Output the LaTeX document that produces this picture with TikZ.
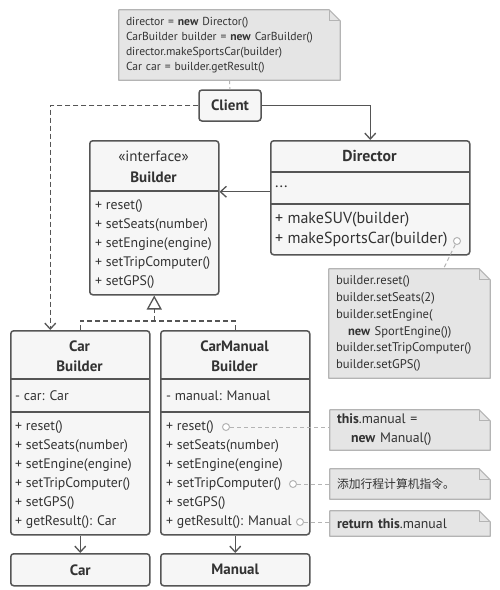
\documentclass[tikz,border=0pt]{standalone}
\usepackage{fontspec}
\setmainfont{PT Sans}
\newfontfamily\cjkfont{Noto Sans CJK SC}
\usetikzlibrary{arrows.meta,positioning,calc}
\definecolor{umlline}{RGB}{85,85,85}
\definecolor{umlfill}{RGB}{246,246,246}
\definecolor{umltext}{RGB}{51,51,51}
\definecolor{notefill}{RGB}{229,229,229}
\definecolor{noteline}{RGB}{180,180,180}

% dog-ear outline for a note node
\newcommand{\notefold}[1]{%
  \fill[white] (#1.north east) -- ([xshift=-11pt]#1.north east) -- ([yshift=-11pt]#1.north east) -- cycle;
  \draw[noteline, line width=1.2pt, line join=round] (#1.south west) -- (#1.north west) -- ([xshift=-11pt]#1.north east) -- ([yshift=-11pt]#1.north east) -- (#1.south east) -- cycle;
  \draw[noteline, line width=1pt] ([xshift=-11pt]#1.north east) |- ([yshift=-11pt]#1.north east);
}

\begin{document}
\begin{tikzpicture}[x=1pt, y=-1pt,
  umlbox/.style={draw=umlline, line width=1.5pt, rounded corners=3pt, fill=umlfill, inner sep=0pt, text=umltext},
  umlsep/.style={draw=umlline, line width=1.5pt},
  hdr/.style={font=\fontsize{15}{20}\selectfont\bfseries, text=umltext, align=center, inner sep=0pt},
  mlist/.style={font=\fontsize{13.8}{19}\selectfont, text=umltext, align=left, inner sep=0pt, anchor=west},
  note/.style={fill=notefill, inner xsep=7pt, inner ysep=0pt, align=left, text=umltext},
  link/.style={draw=umlline, line width=1.3pt},
  arr/.style={-{Straight Barb[length=6pt, width=11pt]}},
  realize/.style={link, dash pattern=on 5pt off 3pt},
  hint/.style={draw=noteline, line width=1pt, dash pattern=on 4pt off 3pt},
  pin/.style={circle, draw=noteline, line width=1pt, fill=white, minimum size=7pt, inner sep=0pt}]

  \path[use as bounding box, fill=white] (0,0) rectangle (500,590);

  % Client and its note
  \node[note, text width=207pt, minimum height=70pt, font=\fontsize{11.6}{15}\selectfont] (n1) at (229.5,45)
    {director = \textbf{new} Director()\\CarBuilder builder = \textbf{new} CarBuilder()\\director.makeSportsCar(builder)\\Car car = builder.getResult()};
  \notefold{n1}
  \node[umlbox, font=\fontsize{15}{20}\selectfont\bfseries, minimum width=62pt, minimum height=31pt] (client) at (230,105.5) {Client};

  % Builder interface
  \node[umlbox, minimum width=129pt, minimum height=154pt, anchor=north west] (bld) at (89,140) {};
  \node[hdr, font=\fontsize{15}{21}\selectfont\bfseries] (bldh) at (153.5,166.5) {\mdseries«interface»\\Builder};
  \draw[umlsep] (89,191) -- (218,191);
  \node[mlist] (bldm) at (95,244) {+ reset()\\+ setSeats(number)\\+ setEngine(engine)\\+ setTripComputer()\\+ setGPS()};

  % Director
  \node[umlbox, minimum width=199pt, minimum height=114pt, anchor=north west] (dir) at (270,140) {};
  \node[hdr, font=\fontsize{15.8}{20}\selectfont\bfseries] (dirh) at (369.5,156) {Director};
  \draw[umlsep] (270,172) -- (469,172);
  \node[mlist, font=\fontsize{16}{19}\selectfont] (dirf) at (275,187) {...};
  \draw[umlsep] (270,204) -- (469,204);
  \node[mlist, font=\fontsize{16}{20}\selectfont] (dirm) at (275,229.5) {+ makeSUV(builder)\\+ makeSportsCar(builder)};
  \node[pin] (dpin) at (457,241) {};

  \node[note, text width=147pt, minimum height=109pt, font=\fontsize{12.6}{16.8}\selectfont] (n2) at (409.5,323.5)
    {builder.reset()\\builder.setSeats(2)\\builder.setEngine(\\\hspace*{12pt}\textbf{new} SportEngine())\\builder.setTripComputer()\\builder.setGPS()};
  \notefold{n2}

  % Car builder
  \node[umlbox, minimum width=139pt, minimum height=204pt, anchor=north west] (carb) at (10,330) {};
  \node[hdr] (carbh) at (79.5,356) {Car\\Builder};
  \draw[umlsep] (10,379) -- (149,379);
  \node[mlist] (carbf) at (15,396) {- car: Car};
  \draw[umlsep] (10,412) -- (149,412);
  \node[mlist] (carbm) at (15,474.5) {+ reset()\\+ setSeats(number)\\+ setEngine(engine)\\+ setTripComputer()\\+ setGPS()\\+ getResult(): Car};

  % Car manual builder
  \node[umlbox, minimum width=149pt, minimum height=204pt, anchor=north west] (cmb) at (160,330) {};
  \node[hdr] (cmbh) at (234.5,356) {CarManual\\Builder};
  \draw[umlsep] (160,379) -- (309,379);
  \node[mlist] (cmbf) at (166,396) {- manual: Manual};
  \draw[umlsep] (160,412) -- (309,412);
  \node[mlist] (cmbm) at (166,474.5) {+ reset()\\+ setSeats(number)\\+ setEngine(engine)\\+ setTripComputer()\\+ setGPS()\\+ getResult(): Manual};
  \node[pin] (p1) at (226,427) {};
  \node[pin] (p2) at (293,484) {};
  \node[pin] (p3) at (300,522) {};

  % Products
  \node[umlbox, font=\fontsize{15}{20}\selectfont\bfseries, minimum width=139pt, minimum height=32pt, anchor=north west] (car) at (10,553) {Car};
  \node[umlbox, font=\fontsize{15}{20}\selectfont\bfseries, minimum width=149pt, minimum height=32pt, anchor=north west] (man) at (160,553) {Manual};

  % Notes on the right
  \node[note, text width=146pt, minimum height=40pt, font=\fontsize{13.8}{19}\selectfont] (n3) at (410,430)
    {\textbf{this}.manual =\\\hspace*{14pt}\textbf{new} Manual()};
  \notefold{n3}
  \node[note, text width=146pt, minimum height=30pt, font=\fontsize{11.8}{16}\selectfont\cjkfont] (n4) at (410,484) {添加行程计算机指令。};
  \notefold{n4}
  \node[note, text width=146pt, minimum height=25pt, font=\fontsize{13.8}{19}\selectfont] (n5) at (410,523.5) {\textbf{return this}.manual};
  \notefold{n5}

  % Connectors
  \draw[hint] (n1.south) -- (client.north);
  \draw[realize, arr] (client.west) -| ([xshift=-30pt]carb.north);
  \draw[link, arr] (client.east) -| (dir.north);
  \draw[link, arr] ([yshift=6pt]dir.west) -- ([yshift=6pt]dir.west -| bld.east);
  \draw[hint] (dpin) -- ([xshift=34pt]n2.north);
  \draw[realize] (carb.north) -- ++(0,-9) coordinate (inhl) -| (cmb.north);
  \draw[realize, -{Triangle[open, length=14pt, width=15pt, fill=white]}] (inhl -| bld.south) -- (bld.south);
  \draw[link, arr] (carb.south) -- (car.north);
  \draw[link, arr] (cmb.south) -- (man.north);
  \draw[hint] (p1) -- (p1 -| n3.west);
  \draw[hint] (p2) -- (p2 -| n4.west);
  \draw[hint] (p3) -- (p3 -| n5.west);
\end{tikzpicture}
\end{document}
